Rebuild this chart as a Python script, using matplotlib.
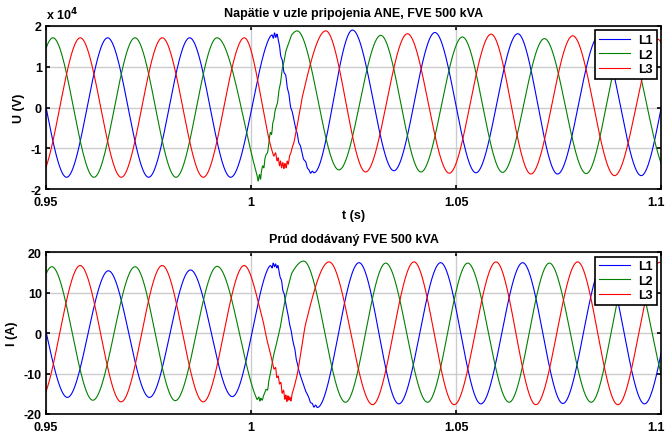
import numpy as np
import matplotlib
matplotlib.use("Agg")
import matplotlib.pyplot as plt
from matplotlib.transforms import ScaledTranslation

# knots: extrema of each phase + the noisy transient after t = 1 s
# voltage in units of 1e4 V
u1_t = [0.945, 0.955, 0.965, 0.975, 0.985, 0.995,
        1.0043, 1.0047, 1.0051, 1.0054, 1.0057, 1.0060, 1.0063, 1.0066, 1.0069, 1.0072,
        1.0076, 1.0080, 1.0084, 1.0088, 1.0092, 1.0096, 1.0100, 1.0104, 1.0108, 1.0112,
        1.0116, 1.0120, 1.0124, 1.0128, 1.0133, 1.0137, 1.0141, 1.0145, 1.0149, 1.0153,
        1.0247, 1.0348, 1.0448, 1.0548, 1.0650, 1.0747, 1.0849, 1.0951, 1.1050]
u1_v = [1.71, -1.71, 1.71, -1.71, 1.71, -1.71,
        1.68, 1.75, 1.78, 1.70, 1.83, 1.72, 1.80, 1.66, 1.52, 1.27,
        1.15, 0.86, 0.80, 0.49, 0.33, 0.02, -0.10, -0.29, -0.49, -0.62,
        -0.86, -0.94, -1.11, -1.27, -1.33, -1.48, -1.53, -1.61, -1.56, -1.60,
        1.90, -1.55, 1.84, -1.60, 1.81, -1.63, 1.77, -1.67, 1.74]

u2_t = [0.94167, 0.95167, 0.96167, 0.97167, 0.98167, 0.99167,
        1.00105, 1.00146, 1.00170, 1.00203, 1.00227, 1.00252, 1.00284, 1.00309, 1.00333,
        1.00366, 1.00398, 1.00431, 1.00472, 1.00496, 1.00529, 1.00553, 1.00577, 1.00610,
        1.00642, 1.00675, 1.00716, 1.00757, 1.00797, 1.00838, 1.00879, 1.00919, 1.00960, 1.01001,
        1.0112, 1.0214, 1.0316, 1.0414, 1.0515, 1.0613, 1.0715, 1.0817, 1.0914, 1.1017]
u2_v = [-1.71, 1.71, -1.71, 1.71, -1.71, 1.71,
        -1.52, -1.68, -1.80, -1.64, -1.76, -1.56, -1.43, -1.48, -1.27,
        -1.15, -1.11, -0.86, -0.61, -0.66, -0.37, -0.29, -0.11, 0.02,
        0.12, 0.41, 0.61, 0.94, 1.11, 1.35, 1.48, 1.60, 1.72, 1.80,
        1.88, -1.53, 1.77, -1.58, 1.73, -1.59, 1.69, -1.62, 1.67, -1.62]

u3_t = [0.94833, 0.95833, 0.96833, 0.97833, 0.98833, 0.99833,
        1.00512, 1.00553, 1.00594, 1.00634, 1.00659, 1.00691, 1.00716, 1.00740, 1.00773,
        1.00797, 1.00822, 1.00854, 1.00879, 1.00903, 1.00936, 1.00968, 1.01001, 1.01041,
        1.01082, 1.01123, 1.01164, 1.01204, 1.01245,
        1.0182, 1.0279, 1.0381, 1.0483, 1.0585, 1.0682, 1.0784, 1.0886, 1.0990, 1.1090]
u3_v = [-1.71, 1.71, -1.71, 1.71, -1.71, 1.71,
        -1.07, -1.19, -1.11, -1.31, -1.23, -1.43, -1.31, -1.48, -1.35,
        -1.50, -1.37, -1.48, -1.31, -1.39, -1.19, -1.11, -0.98, -0.86,
        -0.66, -0.45, -0.20, 0.00, 0.25,
        1.88, -1.58, 1.81, -1.61, 1.80, -1.63, 1.76, -1.67, 1.68, -1.67]

# current in A
i1_t = [0.945, 0.9552, 0.9652, 0.9752, 0.9852, 0.9954,
        1.00390, 1.00431, 1.00472, 1.00512, 1.00536, 1.00569, 1.00594, 1.00626, 1.00650,
        1.00675, 1.00707, 1.00740, 1.00773, 1.00805, 1.00838, 1.00870, 1.00903, 1.00936,
        1.00968, 1.01001, 1.01033, 1.01066, 1.01098, 1.01131, 1.01164, 1.01204, 1.01245,
        1.01285, 1.01326, 1.01367, 1.01408, 1.01448, 1.01489, 1.01530, 1.01571, 1.01611,
        1.0263, 1.0360, 1.0462, 1.0560, 1.0662, 1.0760, 1.0860, 1.0959, 1.1059]
i1_v = [15.5, -15.9, 15.4, -15.9, 15.6, -15.7,
        15.5, 16.3, 16.7, 16.1, 17.3, 16.4, 17.1, 16.1, 16.7,
        15.5, 13.8, 13.0, 10.5, 9.7, 7.6, 6.0, 4.3, 2.2,
        1.0, -1.1, -2.7, -4.0, -6.4, -7.7, -9.3, -10.6, -11.8,
        -13.1, -14.3, -15.1, -16.0, -17.2, -17.4, -18.3, -17.8, -18.4,
        17.4, -17.5, 17.4, -17.5, 17.4, -17.4, 17.4, -17.5, 17.4]

i2_t = [0.9414, 0.9514, 0.9614, 0.9717, 0.9815, 0.9917,
        1.00105, 1.00146, 1.00187, 1.00211, 1.00235, 1.00268, 1.00301, 1.00333, 1.00366,
        1.00398, 1.00431, 1.00472, 1.00512, 1.00553, 1.00594, 1.00634, 1.00675, 1.00716,
        1.00757, 1.00797, 1.00838, 1.00919, 1.01001,
        1.0128, 1.0230, 1.0328, 1.0430, 1.0528, 1.0629, 1.0727, 1.0829, 1.0926, 1.1029]
i2_v = [-16.6, 16.4, -16.6, 16.4, -16.7, 16.5,
        -15.5, -16.4, -15.8, -16.8, -16.1, -16.6, -15.5, -14.7, -13.9,
        -14.1, -11.8, -9.8, -7.3, -5.2, -3.6, -1.9, -0.2, 1.8,
        4.3, 6.4, 8.8, 12.1, 15.0,
        17.8, -17.1, 17.3, -17.1, 17.3, -17.1, 17.3, -17.1, 17.3, -17.1]

i3_t = [0.9483, 0.9583, 0.9683, 0.9783, 0.9883, 0.9983,
        1.00268, 1.00390, 1.00472, 1.00528, 1.00561, 1.00594, 1.00626, 1.00659, 1.00691,
        1.00724, 1.00757, 1.00789, 1.00822, 1.00846, 1.00870, 1.00895, 1.00919, 1.00944,
        1.00968, 1.01001, 1.01033, 1.01066, 1.01106, 1.01147, 1.01204, 1.01245, 1.01326,
        1.0190, 1.0296, 1.0397, 1.0495, 1.0597, 1.0694, 1.0796, 1.0894, 1.0996, 1.1096]
i3_v = [-17.0, 16.7, -17.0, 16.7, -17.0, 16.7,
        3.9, -1.9, -5.2, -7.7, -8.9, -8.5, -11.0, -10.6, -12.6,
        -12.2, -14.9, -14.1, -16.4, -15.3, -16.9, -15.5, -16.6, -15.8,
        -16.8, -14.9, -13.9, -12.6, -11.0, -8.9, -5.2, -2.7, 2.2,
        17.6, -17.7, 17.6, -17.7, 17.6, -17.7, 17.6, -17.7, 17.5, -17.7]

labels = ["L1", "L2", "L3"]
colors = [(0, 0, 1), (0, 0.5, 0), (1, 0, 0)]


def pchip(x, y, xq):
    # monotone cubic through the read knots (flat at extrema)
    x = np.asarray(x, float)
    y = np.asarray(y, float)
    h = np.diff(x)
    d = np.diff(y) / h
    m = np.zeros_like(y)
    for k in range(1, len(x) - 1):
        if d[k - 1] * d[k] > 0:
            w1 = 2 * h[k] + h[k - 1]
            w2 = h[k] + 2 * h[k - 1]
            m[k] = (w1 + w2) / (w1 / d[k - 1] + w2 / d[k])
    idx = np.clip(np.searchsorted(x, xq) - 1, 0, len(h) - 1)
    s = (xq - x[idx]) / h[idx]
    return ((2 * s**3 - 3 * s**2 + 1) * y[idx] + (s**3 - 2 * s**2 + s) * h[idx] * m[idx]
            + (-2 * s**3 + 3 * s**2) * y[idx + 1] + (s**3 - s**2) * h[idx] * m[idx + 1])


plt.rcParams['font.family'] = ['Liberation Sans', 'DejaVu Sans']
plt.rcParams['font.weight'] = 'bold'
plt.rcParams['font.size'] = 9

t = np.linspace(0.95, 1.1, 3001)

fig = plt.figure(figsize=(6.68, 4.35), dpi=100)
ax1 = fig.add_axes([0.069, 0.563, 0.921, 0.375])
ax2 = fig.add_axes([0.069, 0.046, 0.921, 0.372])

for ax, series, ylim, yticks in [
        (ax1, [(u1_t, u1_v), (u2_t, u2_v), (u3_t, u3_v)], (-2, 2), [-2, -1, 0, 1, 2]),
        (ax2, [(i1_t, i1_v), (i2_t, i2_v), (i3_t, i3_v)], (-20, 20), [-20, -10, 0, 10, 20])]:
    for (kt, kv), lab, c in zip(series, labels, colors):
        ax.plot(t, pchip(kt, kv, t), color=c, lw=0.8, label=lab)
    ax.set_xlim(0.95, 1.1)
    ax.set_ylim(*ylim)
    ax.set_xticks([0.95, 1.0, 1.05, 1.1])
    ax.set_xticklabels(["0.95", "1", "1.05", "1.1"])
    ax.set_yticks(yticks)
    ax.set_yticklabels([str(v) for v in yticks])
    ax.grid(True, color=(0.8, 0.8, 0.8), lw=1.0)
    ax.tick_params(direction='in', top=True, right=True, length=3, width=1.2)
    ax.tick_params(axis='x', pad=5)
    ax.tick_params(axis='y', pad=3)
    # keep the last x label inside the canvas
    last = ax.get_xticklabels()[-1]
    last.set_transform(last.get_transform() + ScaledTranslation(-4 / 72, 0, fig.dpi_scale_trans))
    for sp in ax.spines.values():
        sp.set_linewidth(1.2)
    leg = ax.legend(loc='upper right', fancybox=False, edgecolor='black', framealpha=1,
                    handlelength=2.5, labelspacing=0.2, borderpad=0.3,
                    borderaxespad=0.35, handletextpad=0.7)
    leg.get_frame().set_linewidth(1.2)

ax1.set_title("Napätie v uzle pripojenia ANE, FVE 500 kVA", fontweight='bold', fontsize=9, pad=7)
ax1.set_ylabel("U (V)", fontweight='bold', labelpad=4)
ax1.set_xlabel("t (s)", fontweight='bold', labelpad=1)
ax1.text(0.0, 1.025, "x 10$^{\\mathbf{4}}$", transform=ax1.transAxes, ha='left', va='bottom',
         fontweight='bold')

ax2.set_title("Prúd dodávaný FVE 500 kVA", fontweight='bold', fontsize=9, pad=7)
ax2.set_ylabel("I (A)", fontweight='bold', labelpad=4)

fig.savefig("out.png", dpi=100)
